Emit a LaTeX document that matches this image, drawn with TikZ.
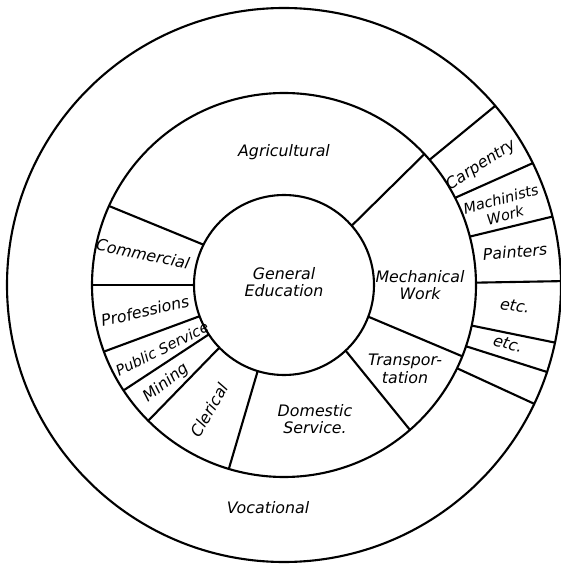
\documentclass[tikz,border=0pt]{standalone}
\usepackage{fontspec}
\setmainfont{DejaVu Sans}
\begin{document}
\begin{tikzpicture}[x=0.02cm,y=0.02cm,line width=1.2pt,
    lbl/.style={font=\fontsize{9}{10}\selectfont\itshape,align=center,inner sep=1pt},
    small/.style={font=\fontsize{8.3}{9.5}\selectfont\itshape}]
  \useasboundingbox (-284,-283) rectangle (277,285);
  \draw (0,0) circle (277);
  \draw (0,0) circle (192);
  \draw (0,0) circle (90);
  % middle ring
  \foreach \a/\b in {41.2/43,-20.6/-21.8,-46.8/-49,-107/-106.7,-135.9/-135,
                     -146.7/-146.7,-159.7/-159.7,180/180,153.4/155.7}
    \draw (\a:90) -- (\b:192);
  % outer ring, right side
  \foreach \a/\b in {40.7/40.3,27/26.1,14.6/14.3,0.7/0.8,-12.2/-12,-18.6/-18.3,-25.7/-25.4}
    \draw (\a:192) -- (\b:277);
  \node[lbl] (agri) at (0,133) {Agricultural};
  \node[lbl] (gened) at (0,3) {General\\Education};
  \node[lbl] (mech) at (136,0) {Mechanical\\Work};
  \node[lbl,rotate=-12] (comm) at (-141,31) {Commercial};
  \node[lbl,rotate=13] (prof) at (-139,-26) {Professions};
  \node[lbl,small,rotate=27] (pub) at (-122,-64) {Public Service};
  \node[lbl,rotate=38] (mine) at (-118,-98) {Mining};
  \node[lbl,rotate=60] (cler) at (-75,-125) {Clerical};
  \node[lbl] (dom) at (31,-134) {Domestic\\Service.};
  \node[lbl] (trans) at (121,-84) {Transpor-\\tation};
  \node[lbl,rotate=33] (carp) at (197,120) {Carpentry};
  \node[lbl,small,rotate=15] (mach) at (219,78) {Machinists\\Work};
  \node[lbl,rotate=5] (paint) at (231,33) {Painters};
  \node[lbl,rotate=-8] (etca) at (231,-21) {etc.};
  \node[lbl,rotate=-15] (etcb) at (224,-59) {etc.};
  \node[lbl] (voc) at (-16,-223) {Vocational};
\end{tikzpicture}
\end{document}
